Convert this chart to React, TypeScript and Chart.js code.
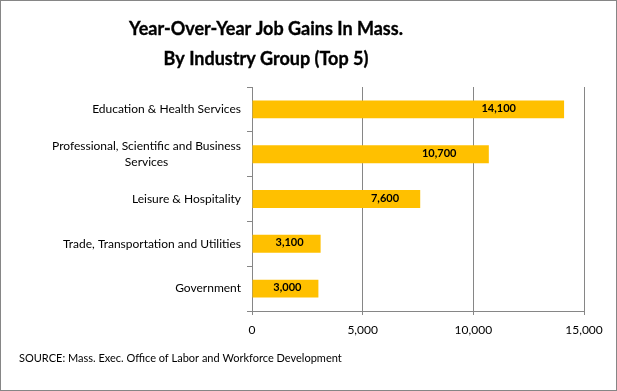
import { useEffect, useRef } from "react";
import { Chart, registerables } from "chart.js";

Chart.register(...registerables);

const categories: string[][] = [
  ["Education & Health Services"],
  ["Professional, Scientific and Business", "Services"],
  ["Leisure & Hospitality"],
  ["Trade, Transportation and Utilities"],
  ["Government"],
];
const jobGains = [14100, 10700, 7600, 3100, 3000];
const xMin = 0;
const xMax = 15000;
const xStep = 5000;
const titleLines = ["Year-Over-Year Job Gains In Mass.", "By Industry Group (Top 5)"];
const sourceNote = "SOURCE: Mass. Exec. Office of Labor and Workforce Development";

const FONT = "Lato, 'Open Sans', sans-serif";
const GRID = "#868686";
const BAR = "#FFC000";

const fmt = (v: number) => v.toLocaleString("en-US");

export default function App() {
  const ref = useRef<HTMLCanvasElement | null>(null);

  useEffect(() => {
    document.body.style.margin = "0";
    const canvas = ref.current;
    if (!canvas) return;

    const titlePlugin = {
      id: "customTitle",
      afterDraw(chart: any) {
        const { ctx } = chart;
        ctx.save();
        ctx.font = `bold 18px ${FONT}`;
        ctx.fillStyle = "#000";
        ctx.strokeStyle = "#000";
        ctx.lineWidth = 0.35;
        ctx.textAlign = "center";
        ctx.textBaseline = "alphabetic";
        titleLines.forEach((l, i) => {
          ctx.fillText(l, 265, 33.5 + i * 30);
          ctx.strokeText(l, 265, 33.5 + i * 30);
        });
        ctx.restore();
      },
    };

    const yLabelPlugin = {
      id: "yLabels",
      afterDraw(chart: any) {
        const { ctx, scales } = chart;
        const y = scales.y;
        ctx.save();
        ctx.font = `12px ${FONT}`;
        ctx.fillStyle = "#000";
        ctx.textAlign = "center";
        ctx.textBaseline = "middle";
        const right = chart.chartArea.left - 11;
        categories.forEach((lines, i) => {
          const py = y.getPixelForTick(i);
          const w = Math.max(...lines.map((l) => ctx.measureText(l).width));
          const cx = right - w / 2;
          lines.forEach((l, j) => {
            ctx.fillText(l, cx, py + (j - (lines.length - 1) / 2) * 15.4);
          });
        });
        ctx.restore();
      },
    };

    const barLabelPlugin = {
      id: "barLabels",
      afterDatasetsDraw(chart: any) {
        const { ctx } = chart;
        const meta = chart.getDatasetMeta(0);
        ctx.save();
        ctx.font = `bold 11px ${FONT}`;
        ctx.fillStyle = "#000";
        ctx.textAlign = "center";
        ctx.textBaseline = "middle";
        meta.data.forEach((bar: any, i: number) => {
          const text = fmt(jobGains[i]);
          const w = ctx.measureText(text).width;
          const x0 = bar.base;
          const len = bar.x - x0;
          const cx = x0 + Math.min(0.79 * len, len - 17 - w / 2);
          ctx.fillText(text, cx, bar.y - 1);
        });
        ctx.restore();
      },
    };

    const sourcePlugin = {
      id: "sourceNote",
      afterDraw(chart: any) {
        const { ctx } = chart;
        ctx.save();
        ctx.font = `11px ${FONT}`;
        ctx.fillStyle = "#000";
        ctx.textAlign = "left";
        ctx.textBaseline = "middle";
        ctx.fillText(sourceNote, 18, 357);
        ctx.restore();
      },
    };

    const chart = new Chart(canvas, {
      type: "bar",
      data: {
        labels: categories,
        datasets: [
          {
            data: jobGains,
            backgroundColor: BAR,
            borderWidth: 0,
            barPercentage: 0.4,
            categoryPercentage: 1,
          },
        ],
      },
      options: {
        indexAxis: "y",
        responsive: false,
        animation: false,
        devicePixelRatio: 1,
        layout: { padding: { top: 86, right: 32, bottom: 49, left: 0 } },
        plugins: {
          legend: { display: false },
          tooltip: { enabled: false },
          title: { display: false },
        },
        scales: {
          x: {
            type: "linear",
            min: xMin,
            max: xMax,
            ticks: {
              stepSize: xStep,
              color: "#000",
              font: { family: FONT, size: 12 },
              padding: 8,
              callback: (v: any) => fmt(Number(v)),
            },
            grid: { color: GRID, tickLength: 4, lineWidth: 1 },
            border: { display: true, color: GRID },
            afterFit: (s: any) => {
              s.height = 30;
            },
          },
          y: {
            type: "category",
            ticks: { display: false },
            grid: { color: GRID, drawOnChartArea: false, tickLength: 5, offset: true },
            border: { display: true, color: GRID },
            afterFit: (s: any) => {
              s.width = 251;
            },
          },
        },
      },
      plugins: [titlePlugin, yLabelPlugin, barLabelPlugin, sourcePlugin],
    });

    return () => chart.destroy();
  }, []);

  return (
    <div
      style={{
        width: 617,
        height: 391,
        border: "1px solid #868686",
        boxSizing: "border-box",
        background: "#fff",
      }}
    >
      <canvas ref={ref} width={615} height={389} style={{ display: "block" }} />
    </div>
  );
}
